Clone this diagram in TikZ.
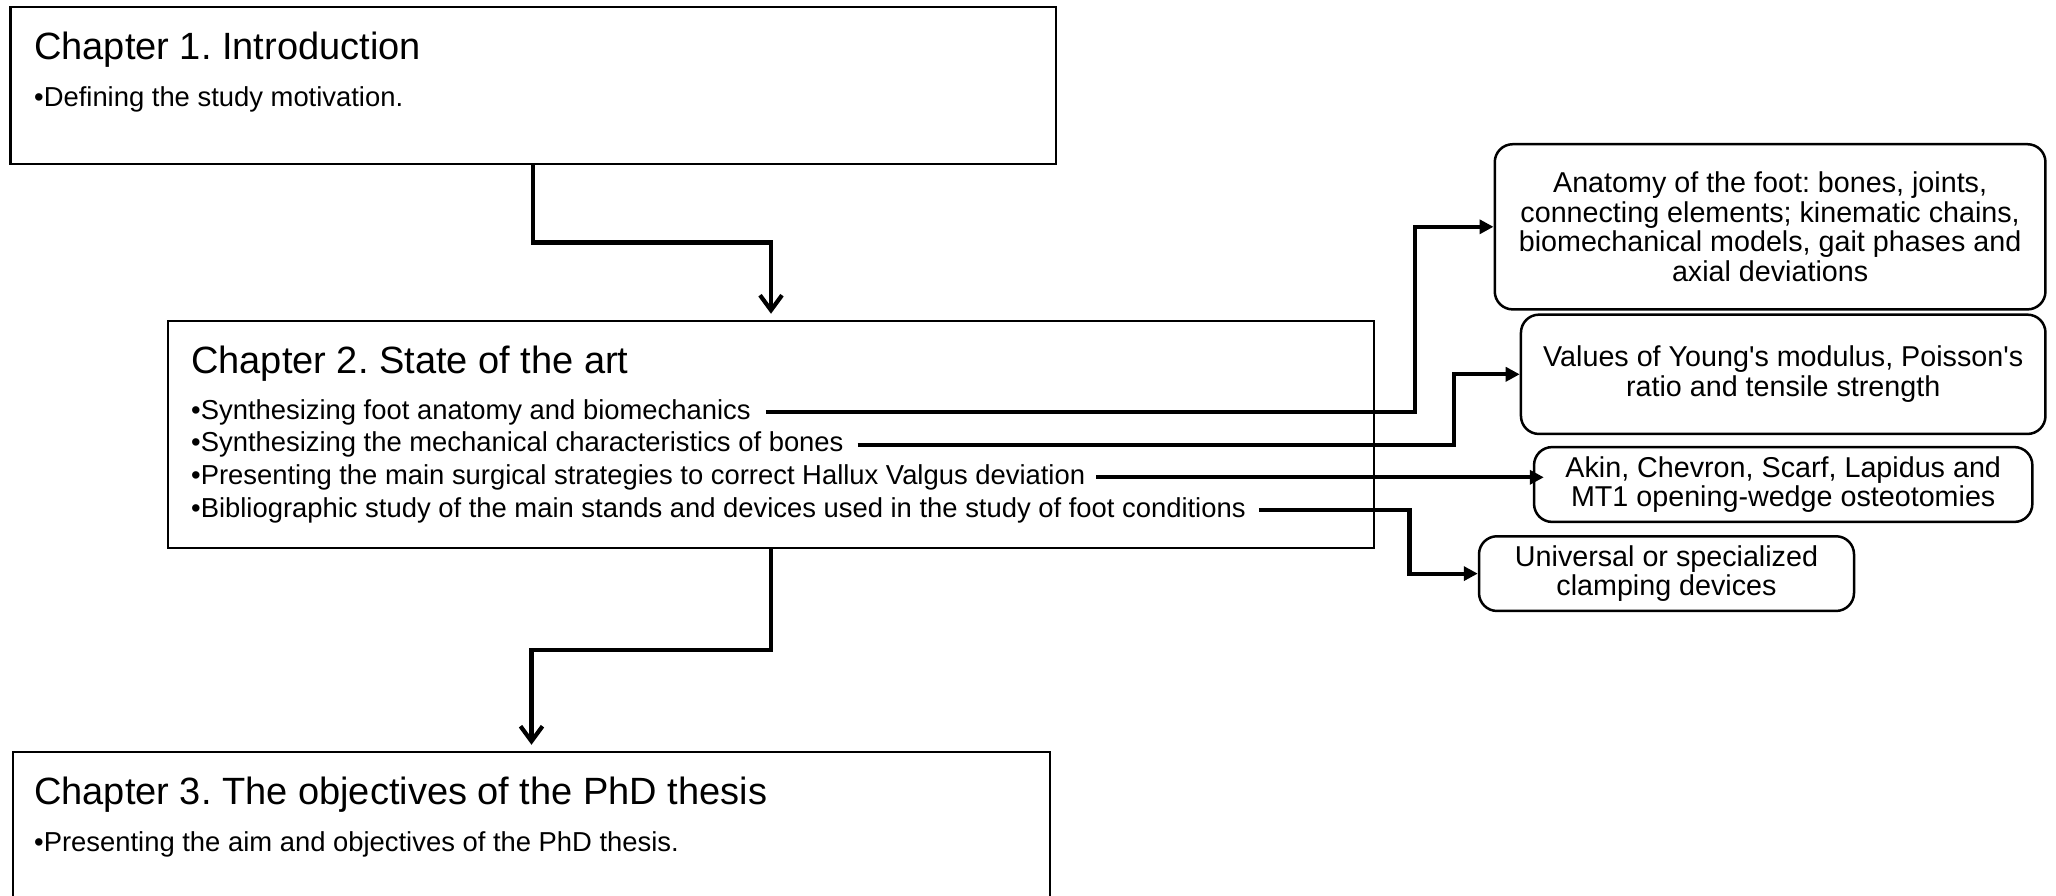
\documentclass[tikz,border=0pt]{standalone}
\usepackage{fontspec}
\setmainfont{Liberation Sans}
\usetikzlibrary{arrows.meta,calc}
\frenchspacing
\newcommand\ttlfont{\fontsize{38}{40}\selectfont}
\newcommand\bulfont{\fontsize{27.4}{30}\selectfont}
\newcommand\sdfont{\fontsize{28.7}{29.8}\selectfont}
\tikzset{
  chapbox/.style={draw=black, line width=2.5pt, inner sep=0pt},
  sidebox/.style={draw=black, line width=2.5pt, rounded corners=18pt, align=center, inner sep=0pt, font=\sdfont},
  ttl/.style={anchor=base west, inner sep=0pt, font=\ttlfont},
  bul/.style={anchor=base west, inner sep=0pt, font=\bulfont, text height=19pt, text depth=5pt},
  flowarr/.style={line width=4.2pt, -{Straight Barb[length=15pt,width=22pt]}, shorten >=6pt},
  sidearr/.style={line width=4.2pt, -{Triangle[length=14pt,width=14pt]}}
}
\begin{document}
\begin{tikzpicture}[x=1pt,y=-1pt]
\useasboundingbox (0,0) rectangle (2056,895);
% chapter boxes
\node[chapbox, minimum width=1045.5pt, minimum height=157pt] (c1) at (533.2,85.5) {};
\node[chapbox, minimum width=1206pt, minimum height=227pt] (c2) at (771,434.5) {};
\node[chapbox, minimum width=1037pt, minimum height=157pt] (c3) at (531.5,830.5) {};
% texts
\node[ttl] (t1) at (34,59) {Chapter 1. Introduction};
\node[bul] (d1) at (34,106) {•Defining the study motivation.};
\node[ttl] (t2) at (191,373) {Chapter 2. State of the art};
\node[bul] (b1) at (191,419) {•Synthesizing foot anatomy and biomechanics};
\node[bul] (b2) at (191,451.7) {•Synthesizing the mechanical characteristics of bones};
\node[bul] (b3) at (191,484.3) {•Presenting the main surgical strategies to correct Hallux Valgus deviation};
\node[bul] (b4) at (191,517) {•Bibliographic study of the main stands and devices used in the study of foot conditions};
\node[ttl] (t3) at (34,804) {Chapter 3. The objectives of the PhD thesis};
\node[bul] (d3) at (34,851) {•Presenting the aim and objectives of the PhD thesis.};
% side boxes
\node[sidebox, minimum width=550.7pt, minimum height=165.2pt] (r1) at (1770.1,226.8)
  {Anatomy of the foot: bones, joints,\\connecting elements; kinematic chains,\\biomechanical models, gait phases and\\axial deviations};
\node[sidebox, minimum width=524.5pt, minimum height=119.3pt] (r2) at (1783.2,374.3)
  {Values of Young\textquotesingle s modulus, Poisson\textquotesingle s\\ratio and tensile strength};
\node[sidebox, minimum width=498.3pt, minimum height=74.8pt] (r3) at (1783.2,484.5)
  {Akin, Chevron, Scarf, Lapidus and\\MT1 opening-wedge osteotomies};
\node[sidebox, minimum width=375pt, minimum height=74.7pt] (r4) at (1666.5,573.6)
  {Universal or specialized\\clamping devices};
% turning columns
\coordinate (k1) at (1414.8,0);
\coordinate (k2) at (1454,0);
\coordinate (k4) at (1409.5,0);
% flow connectors
\draw[flowarr] (c1.south) |- ($(c1.south)!0.5!(c2.north)$) -| (c2.north);
\draw[flowarr] (c2.south) |- ($(c2.south)!0.5!(c3.north)$) -| (c3.north);
% side connectors
\draw[sidearr] ([xshift=15pt]b1.east) -| (r1.west -| k1) -- (r1.west);
\draw[sidearr] ([xshift=14pt]b2.east) -| (r2.west -| k2) -- (r2.west);
\draw[sidearr] ([xshift=11pt]b3.east) -- ([xshift=11pt]b3.east -| r3.west);
\draw[sidearr] ([xshift=13pt]b4.east) -| (r4.west -| k4) -- (r4.west);
\end{tikzpicture}
\end{document}
